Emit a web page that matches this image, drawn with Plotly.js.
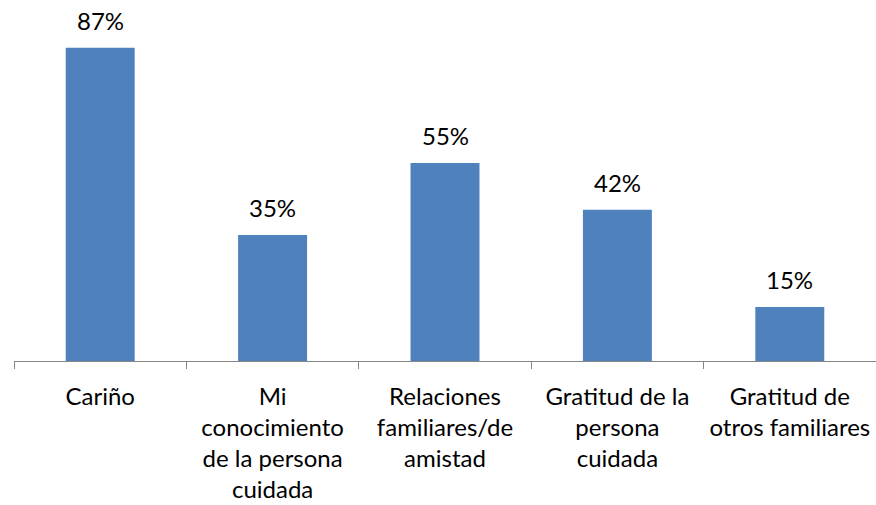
<!DOCTYPE html>
<html>
<head>
<meta charset="utf-8">
<script src="https://cdn.plot.ly/plotly-3.0.1.min.js"></script>
<style>html,body{margin:0;padding:0;background:#fff;}#chart{width:876px;height:505px;}</style>
</head>
<body>
<div id="chart"></div>
<script>
const categories = ["Cariño", "Mi conocimiento de la persona cuidada", "Relaciones familiares/de amistad", "Gratitud de la persona cuidada", "Gratitud de otros familiares"];
const tickLabels = ["Cariño", "Mi<br>conocimiento<br>de la persona<br>cuidada", "Relaciones<br>familiares/de<br>amistad", "Gratitud de la<br>persona<br>cuidada", "Gratitud de<br>otros familiares"];
const values = [87, 35, 55, 42, 15];
const valueLabels = values.map(v => v + "%");

const fontFamily = "Lato, 'Open Sans', sans-serif";

const trace = {
  type: "bar",
  x: categories,
  y: values,
  marker: {color: "#4F81BD"},
  hoverinfo: "none"
};

const annotations = categories.map((c, i) => ({
  x: c, y: values[i], text: valueLabels[i],
  xref: "x", yref: "y", showarrow: false,
  yanchor: "bottom", yshift: 11,
  font: {family: fontFamily, size: 24, color: "#000"}
}));

const layout = {
  width: 876, height: 505,
  margin: {l: 14, r: 0, t: 1, b: 144},
  paper_bgcolor: "#fff", plot_bgcolor: "#fff",
  bargap: 0.6,
  showlegend: false,
  xaxis: {
    type: "category",
    tickmode: "array",
    tickvals: categories,
    ticktext: tickLabels,
    tickson: "boundaries",
    ticks: "outside", ticklen: 7, tickcolor: "#868686", tickwidth: 1,
    showline: true, linecolor: "#868686", linewidth: 1,
    showgrid: false, zeroline: false,
    tickangle: 0,
    ticklabelstandoff: 14,
    tickfont: {family: fontFamily, size: 24, color: "#000"}
  },
  yaxis: {
    range: [0, 100],
    visible: false,
    showgrid: false, zeroline: false
  },
  annotations: annotations
};

Plotly.newPlot("chart", [trace], layout, {displayModeBar: false, staticPlot: true});
</script>
</body>
</html>
